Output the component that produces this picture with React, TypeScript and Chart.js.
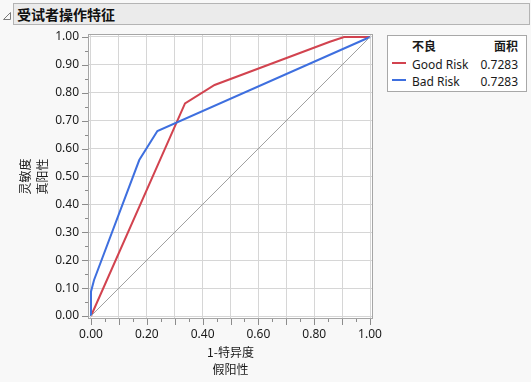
import React, { useEffect, useRef } from "react";
import { Chart, registerables } from "chart.js";

Chart.register(...registerables);

const LATIN = '"Noto Sans", "Noto Sans CJK SC", sans-serif';
const CJK = '"Noto Sans CJK SC", "Noto Sans", sans-serif';

// ROC data
const goodRiskFPR = [0, 0.337, 0.443, 0.856, 0.907, 1];
const goodRiskTPR = [0, 0.762, 0.828, 0.983, 1.0, 1];
const badRiskFPR = [0, 0, 0.011, 0.173, 0.238, 1];
const badRiskTPR = [0, 0.087, 0.129, 0.559, 0.663, 1];
const diagonalX = [0, 1];
const diagonalY = [0, 1];

const seriesNames = ["Good Risk", "Bad Risk"];
const seriesAreas = ["0.7283", "0.7283"];
const seriesColors = ["#d2434f", "#3e6fdf"];

const tickValues = [
  0, 0.05, 0.1, 0.15, 0.2, 0.25, 0.3, 0.35, 0.4, 0.45, 0.5,
  0.55, 0.6, 0.65, 0.7, 0.75, 0.8, 0.85, 0.9, 0.95, 1,
];
const xLabelValues = [0, 0.2, 0.4, 0.6, 0.8, 1];
const yLabelValues = [0, 0.1, 0.2, 0.3, 0.4, 0.5, 0.6, 0.7, 0.8, 0.9, 1];

const chartTitle = "受试者操作特征";
const xTitle = ["1-特异度", "假阳性"];
const yTitle = ["灵敏度", "真阳性"];
const legendHeader = ["不良", "面积"];

const toPoints = (xs: number[], ys: number[]) => xs.map((x, i) => ({ x, y: ys[i] }));
const isMajor = (v: number) => Math.round(v * 100) % 10 === 0;
const inList = (v: number, list: number[]) => list.some((l) => Math.abs(l - v) < 1e-6);

const framePlugin = {
  id: "frame",
  beforeDraw(chart: any) {
    const { ctx, chartArea } = chart;
    const { left, top, right, bottom } = chartArea;
    ctx.save();
    ctx.fillStyle = "#ffffff";
    ctx.fillRect(left, top, right - left, bottom - top);
    ctx.restore();
  },
  afterDraw(chart: any) {
    const { ctx, chartArea, scales } = chart;
    const { left, top, right, bottom } = chartArea;
    ctx.save();
    ctx.strokeStyle = "#a6a6a6";
    ctx.lineWidth = 1;
    ctx.strokeRect(left + 0.5, top + 0.5, right - left - 1, bottom - top - 1);
    ctx.strokeStyle = "#8c8c8c";
    ctx.beginPath();
    for (const v of tickValues) {
      const len = isMajor(v) ? 6 : 3;
      const px = Math.round(scales.x.getPixelForValue(v)) + 0.5;
      ctx.moveTo(px, bottom);
      ctx.lineTo(px, bottom + len);
      const py = Math.round(scales.y.getPixelForValue(v)) + 0.5;
      ctx.moveTo(left, py);
      ctx.lineTo(left - len, py);
    }
    ctx.stroke();
    ctx.restore();
  },
};

function RocChart() {
  const ref = useRef<HTMLCanvasElement | null>(null);
  useEffect(() => {
    if (!ref.current) return;
    const gridColor = (c: any) => (c.tick && isMajor(c.tick.value) ? "#d6d6d6" : "rgba(0,0,0,0)");
    const chart = new Chart(ref.current, {
      type: "scatter",
      data: {
        datasets: [
          {
            label: seriesNames[0],
            data: toPoints(goodRiskFPR, goodRiskTPR),
            showLine: true,
            borderColor: seriesColors[0],
            backgroundColor: seriesColors[0],
            borderWidth: 2,
            pointRadius: 0,
            tension: 0,
          },
          {
            label: seriesNames[1],
            data: toPoints(badRiskFPR, badRiskTPR),
            showLine: true,
            borderColor: seriesColors[1],
            backgroundColor: seriesColors[1],
            borderWidth: 2,
            pointRadius: 0,
            tension: 0,
          },
          {
            label: "diagonal",
            data: toPoints(diagonalX, diagonalY),
            showLine: true,
            borderColor: "#a0a0a0",
            borderWidth: 1,
            pointRadius: 0,
          },
        ].reverse() as any,
      },
      options: {
        animation: false,
        responsive: false,
        devicePixelRatio: 1,
        layout: { padding: { top: 34, right: 158, left: 0, bottom: 0 } },
        plugins: { legend: { display: false }, tooltip: { enabled: false } },
        scales: {
          x: {
            type: "linear",
            min: -0.0107,
            max: 1.0107,
            afterFit: (s: any) => {
              s.height = 63;
            },
            afterBuildTicks: (s: any) => {
              s.ticks = tickValues.map((v) => ({ value: v }));
            },
            border: { display: false },
            grid: { color: gridColor, drawTicks: false, lineWidth: 1 },
            ticks: {
              autoSkip: false,
              maxRotation: 0,
              padding: 8,
              color: "#1a1a1a",
              font: { family: LATIN, size: 12 },
              callback: (v: any) => (inList(Number(v), xLabelValues) ? Number(v).toFixed(2) : ""),
            },
            title: {
              display: true,
              text: xTitle,
              color: "#1a1a1a",
              font: { family: CJK, size: 12, lineHeight: 1.4 },
              padding: { top: 0, bottom: 4 },
            },
          },
          y: {
            type: "linear",
            min: -0.0107,
            max: 1.0107,
            afterFit: (s: any) => {
              s.width = 88;
            },
            afterBuildTicks: (s: any) => {
              s.ticks = tickValues.map((v) => ({ value: v }));
            },
            border: { display: false },
            grid: { color: gridColor, drawTicks: false, lineWidth: 1 },
            ticks: {
              autoSkip: false,
              padding: 9,
              color: "#1a1a1a",
              font: { family: LATIN, size: 12 },
              callback: (v: any) => (inList(Number(v), yLabelValues) ? Number(v).toFixed(2) : ""),
            },
            title: {
              display: true,
              text: yTitle,
              color: "#1a1a1a",
              font: { family: CJK, size: 12, lineHeight: 1.4 },
              padding: { top: 17, bottom: 0 },
            },
          },
        },
      },
      plugins: [framePlugin],
    });
    return () => chart.destroy();
  }, []);
  return (
    <canvas
      ref={ref}
      width={531}
      height={382}
      style={{ position: "absolute", left: 0, top: 0, width: 531, height: 382 }}
    />
  );
}

export default function App() {
  useEffect(() => {
    document.body.style.margin = "0";
  }, []);
  return (
    <div
      style={{
        position: "relative",
        width: 531,
        height: 382,
        background: "#f8f8f8",
        overflow: "hidden",
        fontFamily: CJK,
      }}
    >
      <svg
        width={10}
        height={10}
        style={{ position: "absolute", left: 2, top: 11 }}
      >
        <polygon points="1.5,8.5 8.5,1.5 8.5,8.5" fill="none" stroke="#7a7a7a" strokeWidth={1} />
      </svg>
      <div
        style={{
          position: "absolute",
          left: 13,
          top: 3,
          width: 515,
          height: 20,
          background: "#ebebeb",
          border: "1px solid #b4b4b4",
          boxSizing: "content-box",
        }}
      >
        <span
          style={{
            position: "absolute",
            left: 3,
            top: 0,
            lineHeight: "20px",
            fontSize: 14,
            fontWeight: 700,
            color: "#111",
            fontFamily: CJK,
          }}
        >
          {chartTitle}
        </span>
      </div>
      <RocChart />
      <div
        style={{
          position: "absolute",
          left: 387,
          top: 35,
          width: 138,
          height: 55,
          background: "#ffffff",
          border: "1px solid #a8a8a8",
          fontSize: 12,
          color: "#1a1a1a",
        }}
      >
        <div style={{ position: "absolute", left: 24, top: 1, lineHeight: "18px", fontWeight: 700, fontFamily: CJK }}>
          {legendHeader[0]}
        </div>
        <div style={{ position: "absolute", right: 8, top: 1, lineHeight: "18px", fontWeight: 700, fontFamily: CJK }}>
          {legendHeader[1]}
        </div>
        {seriesNames.map((name, i) => (
          <React.Fragment key={name}>
            <div
              style={{
                position: "absolute",
                left: 4,
                top: 26 + i * 17,
                width: 14,
                height: 2,
                background: seriesColors[i],
              }}
            />
            <div
              style={{
                position: "absolute",
                left: 24,
                top: 20 + i * 17,
                lineHeight: "18px",
                fontFamily: LATIN,
              }}
            >
              {name}
            </div>
            <div
              style={{
                position: "absolute",
                right: 8,
                top: 20 + i * 17,
                lineHeight: "18px",
                fontFamily: LATIN,
              }}
            >
              {seriesAreas[i]}
            </div>
          </React.Fragment>
        ))}
      </div>
    </div>
  );
}
